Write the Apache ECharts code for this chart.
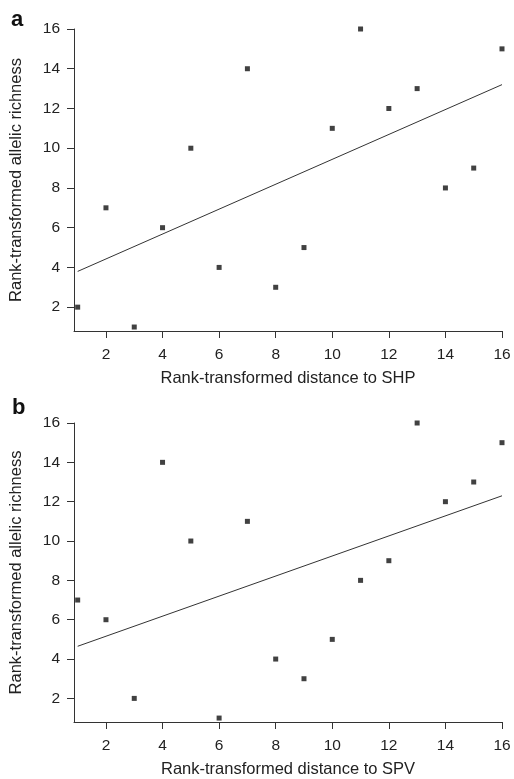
<!DOCTYPE html>
<html><head><meta charset="utf-8">
<script src="https://cdn.jsdelivr.net/npm/echarts@6/dist/echarts.min.js"></script>
<style>html,body{margin:0;padding:0;background:#fff}#c{width:514px;height:779px}</style>
</head><body><div id="c"></div>
<script>
// Panel a: rank-transformed distance to SHP vs allelic richness
const xA = [1,2,3,4,5,6,7,8,9,10,11,12,13,14,15,16];
const yA = [2,7,1,6,10,4,14,3,5,11,16,12,13,8,9,15];
const fitA_x = [1,16];
const fitA_y = [3.8,13.2];
// Panel b: rank-transformed distance to SPV vs allelic richness
const xB = [1,2,3,4,5,6,7,8,9,10,11,12,13,14,15,16];
const yB = [7,6,2,14,10,1,11,4,3,5,8,9,16,12,13,15];
const fitB_x = [1,16];
const fitB_y = [4.65,12.3];
const ticks = [2,4,6,8,10,12,14,16];
const xTitles = ['Rank-transformed distance to SHP','Rank-transformed distance to SPV'];
const yTitle = 'Rank-transformed allelic richness';
const panelLabels = ['a','b'];

const FONT = 'Liberation Sans, Arial, sans-serif';
const TXT = '#222';
function pairs(xs, ys){ return xs.map((x,i)=>[x, ys[i]]); }

const grids = [
  {left:74, right:12, top:29, height:302},
  {left:74, right:12, top:423, height:303}
];
function xAxis(i){
  return {type:'value', gridIndex:i, min:0.87, max:16,
    name:xTitles[i], nameLocation:'middle', nameGap:39,
    nameTextStyle:{fontFamily:FONT, fontSize:16.5, color:TXT},
    axisLine:{show:true, onZero:false, lineStyle:{color:'#333', width:1}},
    axisTick:{show:true, length:7, customValues:ticks, lineStyle:{color:'#333'}},
    axisLabel:{show:true, margin:16, customValues:ticks, fontFamily:FONT, fontSize:15.5, color:TXT},
    splitLine:{show:false}};
}
function yAxis(i){
  return {type:'value', gridIndex:i, min:0.8, max:16,
    name:yTitle, nameLocation:'middle', nameGap:49, nameRotate:90,
    nameTextStyle:{fontFamily:FONT, fontSize:16.5, color:TXT},
    axisLine:{show:true, onZero:false, lineStyle:{color:'#333', width:1}},
    axisTick:{show:true, length:7, customValues:ticks, lineStyle:{color:'#333'}},
    axisLabel:{show:true, margin:14, customValues:ticks, fontFamily:FONT, fontSize:15.5, color:TXT},
    splitLine:{show:false}};
}
const chart = echarts.init(document.getElementById('c'), null, {renderer:'canvas'});
chart.setOption({
  animation:false,
  backgroundColor:'#fff',
  graphic:[
    {type:'text', left:11, top:9, style:{text:panelLabels[0], font:'bold 22px '+FONT, fill:'#111'}},
    {type:'text', left:12, top:397, style:{text:panelLabels[1], font:'bold 22px '+FONT, fill:'#111'}}
  ],
  grid:grids,
  xAxis:[xAxis(0), xAxis(1)],
  yAxis:[yAxis(0), yAxis(1)],
  series:[
    {type:'scatter', xAxisIndex:0, yAxisIndex:0, data:pairs(xA,yA), symbol:'rect', symbolSize:5, itemStyle:{color:'#111'}},
    {type:'line', xAxisIndex:0, yAxisIndex:0, data:pairs(fitA_x,fitA_y), showSymbol:false, symbol:'none', lineStyle:{color:'#333', width:1}},
    {type:'scatter', xAxisIndex:1, yAxisIndex:1, data:pairs(xB,yB), symbol:'rect', symbolSize:5, itemStyle:{color:'#111'}},
    {type:'line', xAxisIndex:1, yAxisIndex:1, data:pairs(fitB_x,fitB_y), showSymbol:false, symbol:'none', lineStyle:{color:'#333', width:1}}
  ]
});
</script></body></html>
